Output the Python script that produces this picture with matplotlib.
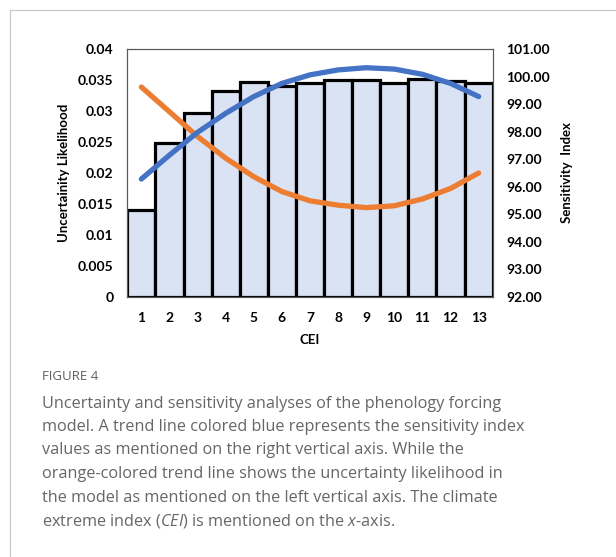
import numpy as np
import matplotlib.pyplot as plt
from matplotlib.patches import Rectangle

# values
cei = [1, 2, 3, 4, 5, 6, 7, 8, 9, 10, 11, 12, 13]
bar_vals = [0.0140, 0.0248, 0.0297, 0.0333, 0.0347, 0.0341, 0.0346,
            0.0350, 0.0350, 0.0346, 0.0352, 0.0349, 0.0346]
# orange trend (uncertainty, left axis)
uncert = [0.0339, 0.0299, 0.0259, 0.0224, 0.0194, 0.0170, 0.0155,
          0.0148, 0.0144, 0.0147, 0.0158, 0.0175, 0.0200]
# blue trend (sensitivity, right axis)
sens = [96.28, 97.15, 97.98, 98.67, 99.28, 99.76, 100.07,
        100.25, 100.33, 100.28, 100.09, 99.76, 99.28]

left_ticks = [0, 0.005, 0.01, 0.015, 0.02, 0.025, 0.03, 0.035, 0.04]
left_labels = ['0', '0.005', '0.01', '0.015', '0.02', '0.025', '0.03', '0.035', '0.04']
right_ticks = [92, 93, 94, 95, 96, 97, 98, 99, 100, 101]

caption = [
    "Uncertainty and sensitivity analyses of the phenology forcing",
    "model. A trend line colored blue represents the sensitivity index",
    "values as mentioned on the right vertical axis. While the",
    "orange-colored trend line shows the uncertainty likelihood in",
    "the model as mentioned on the left vertical axis. The climate",
    r"extreme index ($\mathit{CEI}$) is mentioned on the $\mathit{x}$-axis.",
]

plt.rcParams['font.family'] = ['Lato', 'DejaVu Sans']
plt.rcParams['mathtext.fontset'] = 'custom'
plt.rcParams['mathtext.it'] = 'Open Sans:italic'
plt.rcParams['mathtext.rm'] = 'Open Sans'

W, H = 616, 557
fig = plt.figure(figsize=(W / 100, H / 100), dpi=100)

# light frame around the figure
fig.patches.append(Rectangle((10 / W, -0.1), 1.2, 1 - 10 / H + 0.1, transform=fig.transFigure,
                             fill=False, edgecolor='#c8c8c8', linewidth=0.9))

ax = fig.add_axes([127.3 / W, 1 - 296.7 / H, 365.4 / W, 247.4 / H])
ax.bar(cei, bar_vals, width=1.0, color='#dae3f3', edgecolor='black', linewidth=2.3, zorder=2)
ax.plot(cei, uncert, color='#ed7d31', linewidth=3.8, solid_capstyle='round', zorder=4)
ax.set_xlim(0.5, 13.5)
ax.set_ylim(0, 0.04)
ax.set_yticks(left_ticks)
ax.set_yticklabels(left_labels)
ax.set_xticks(cei)
ax.tick_params(length=0, labelsize=10, pad=11)
ax.tick_params(axis='y', pad=10)
for lab in ax.get_xticklabels() + ax.get_yticklabels():
    lab.set_fontweight('bold')
for s in ax.spines.values():
    s.set_color('#595959')
    s.set_linewidth(0.8)
ax.set_ylabel('Uncertainity Likelihood', fontsize=9.5, fontweight='bold')
ax.yaxis.set_label_coords(-0.158, 0.5)
ax.set_xlabel('CEI', fontsize=9.5, fontweight='bold')
ax.xaxis.set_label_coords(0.5, -0.151)

ax2 = ax.twinx()
ax2.plot(cei, sens, color='#4472c4', linewidth=3.8, solid_capstyle='round', zorder=5)
ax2.set_ylim(92, 101)
ax2.set_yticks(right_ticks)
ax2.set_yticklabels(['%.2f' % t for t in right_ticks])
ax2.tick_params(length=0, labelsize=10, pad=10)
for lab in ax2.get_yticklabels():
    lab.set_fontweight('bold')
for s in ax2.spines.values():
    s.set_color('#595959')
    s.set_linewidth(0.8)
ax2.set_ylabel('Sensitivity  Index', fontsize=9.5, fontweight='bold')
ax2.yaxis.set_label_coords(1.187, 0.5)

# caption
fig.text(42 / W, 1 - 377 / H, 'FIGURE 4', fontsize=9.5, color='#5e5e5e',
         family='Open Sans', va='center')
y0 = 403.5
for i, line in enumerate(caption):
    fig.text(42 / W, 1 - (y0 + i * 23.5) / H, line, fontsize=11.7, color='#666666',
             family='Open Sans', va='center')

fig.savefig('out.png', dpi=100)
